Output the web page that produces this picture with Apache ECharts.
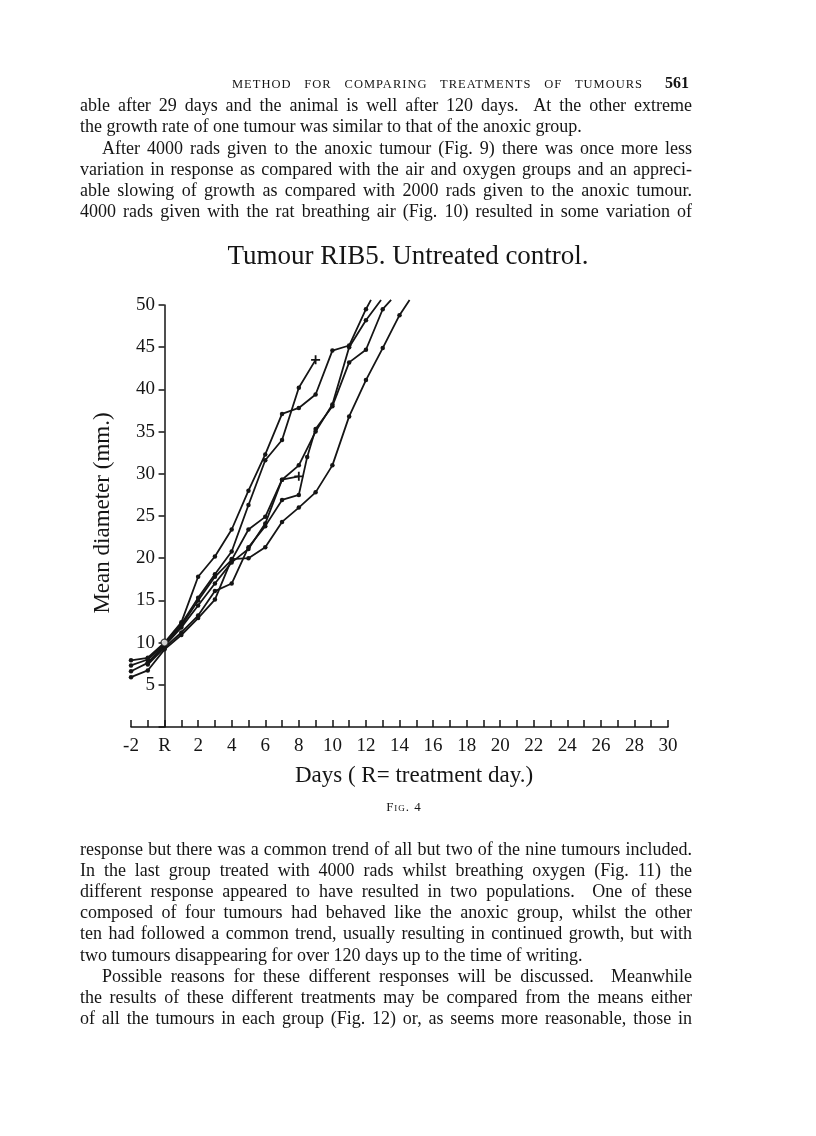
<!DOCTYPE html>
<html><head><meta charset="utf-8">
<script src="https://cdn.jsdelivr.net/npm/echarts@6/dist/echarts.min.js"></script>
<style>
html,body{margin:0;padding:0;background:#fff;}
#chart{position:absolute;left:0;top:0;width:816px;height:1136px;}
.t{position:absolute;left:80px;font-family:"Liberation Serif",serif;font-size:18px;color:#151515;line-height:20px;white-space:nowrap;}
.hdr{position:absolute;left:232px;top:76px;font-family:"Liberation Serif",serif;font-size:12.5px;letter-spacing:1px;color:#151515;line-height:16px;white-space:nowrap;}
.pg{position:absolute;left:665px;top:74px;font-family:"Liberation Serif",serif;font-size:16px;font-weight:bold;color:#151515;line-height:18px;}
.fig{position:absolute;left:0;width:808px;top:799px;text-align:center;font-family:"Liberation Serif",serif;font-size:13px;font-variant:small-caps;letter-spacing:1px;color:#151515;}
</style></head><body>
<div id="chart"></div>
<div class="hdr" data-w="411">METHOD FOR COMPARING TREATMENTS OF TUMOURS</div>
<div class="pg">561</div>
<div class="t" data-w="612" style="top:95px">able after 29 days and the animal is well after 120 days.&nbsp; At the other extreme</div>
<div class="t" style="top:116px">the growth rate of one tumour was similar to that of the anoxic group.</div>
<div class="t" data-w="590" style="top:138px;left:102px">After 4000 rads given to the anoxic tumour (Fig. 9) there was once more less</div>
<div class="t" data-w="612" style="top:159px">variation in response as compared with the air and oxygen groups and an appreci-</div>
<div class="t" data-w="612" style="top:180px">able slowing of growth as compared with 2000 rads given to the anoxic tumour.</div>
<div class="t" data-w="612" style="top:201px">4000 rads given with the rat breathing air (Fig. 10) resulted in some variation of</div>
<div class="fig">Fig. 4</div>
<div class="t" data-w="612" style="top:839px">response but there was a common trend of all but two of the nine tumours included.</div>
<div class="t" data-w="612" style="top:860px">In the last group treated with 4000 rads whilst breathing oxygen (Fig. 11) the</div>
<div class="t" data-w="612" style="top:881px">different response appeared to have resulted in two populations.&nbsp; One of these</div>
<div class="t" data-w="612" style="top:902px">composed of four tumours had behaved like the anoxic group, whilst the other</div>
<div class="t" data-w="612" style="top:923px">ten had followed a common trend, usually resulting in continued growth, but with</div>
<div class="t" style="top:945px">two tumours disappearing for over 120 days up to the time of writing.</div>
<div class="t" data-w="590" style="top:966px;left:102px">Possible reasons for these different responses will be discussed.&nbsp; Meanwhile</div>
<div class="t" data-w="612" style="top:987px">the results of these different treatments may be compared from the means either</div>
<div class="t" data-w="612" style="top:1008px">of all the tumours in each group (Fig. 12) or, as seems more reasonable, those in</div>
<script>
// justify single lines by adjusting word spacing (may be negative for tight lines)
document.querySelectorAll('[data-w]').forEach(el => {
  const target = parseFloat(el.getAttribute('data-w'));
  const w = el.getBoundingClientRect().width;
  const gaps = (el.textContent.match(/[ \u00a0]/g) || []).length;
  if (gaps > 0) el.style.wordSpacing = ((target - w) / gaps) + 'px';
});

// ---- data: [day, mean diameter (mm)] ----
const tumourA = [[-2,7.9],[-1,8.2],[0,10.0],[1,12.4],[2,17.8],[3,20.2],[4,23.4],[5,28.0],[6,32.3],[7,37.1],[8,37.8],[9,39.4],[10,44.6],[11,45.2],[12,49.5],[12.3,50.6]];
const tumourB = [[-2,7.3],[-1,8.0],[0,9.9],[1,12.2],[2,15.3],[3,18.1],[4,20.8],[5,26.3],[6,31.6],[7,34.0],[8,40.2],[9,43.5]];
const tumourC = [[-1,7.6],[0,9.8],[1,12.0],[2,15.0],[3,17.8],[4,19.8],[5,23.4],[6,24.9],[7,29.3],[8,29.7]];
const tumourD = [[-2,6.6],[-1,7.6],[0,9.6],[1,11.8],[2,14.4],[3,17.0],[4,19.5],[5,21.1],[6,24.1],[7,29.3],[8,31.0],[9,35.0],[10,38.2],[11,45.0],[12,48.2],[12.9,50.6]];
const tumourE = [[-1,7.4],[0,9.4],[1,11.2],[2,13.2],[3,16.1],[4,17.0],[5,21.3],[6,23.8],[7,26.9],[8,27.5],[8.5,32.0],[9,35.3],[10,38.0],[11,43.2],[12,44.7],[13,49.5],[13.5,50.6]];
const tumourF = [[-2,5.9],[-1,6.7],[0,9.2],[1,10.9],[2,12.9],[3,15.1],[4,19.9],[5,20.0],[6,21.3],[7,24.3],[8,26.0],[9,27.8],[10,31.0],[11,36.8],[12,41.1],[13,44.9],[14,48.8],[14.6,50.6]];
const treatmentPoint = [[0,10]];
const xTickLabelZero = 'R';
const yTickValues = [5,10,15,20,25,30,35,40,45,50];

// which curves run off the top of the chart, which stop with a cross
const runOff = [tumourA, tumourD, tumourE, tumourF];
const stopped = [tumourB, tumourC];

const INK = '#151515';
const PLUS = 'path://M4,0H6V4H10V6H6V10H4V6H0V4H4Z';

function lineSeries(arr){
  const last = arr.length - 1;
  const data = arr.map((p, i) => {
    if (i === last && runOff.includes(arr)) return {value: p, symbol: 'none'};
    if (i === last && stopped.includes(arr)) return {value: p, symbol: PLUS, symbolSize: 9};
    return {value: p};
  });
  return {
    type: 'line', data, clip: false, smooth: false,
    symbol: 'circle', symbolSize: 4.5, showSymbol: true,
    lineStyle: {color: INK, width: 1.8},
    itemStyle: {color: INK},
    emphasis: {disabled: true}, z: 3
  };
}

const chart = echarts.init(document.getElementById('chart'), null, {renderer: 'canvas'});
const axisFont = {color: INK, fontFamily: '"Liberation Serif", serif', fontSize: 19};
chart.setOption({
  animation: false,
  backgroundColor: 'transparent',
  grid: {left: 131, right: 148, top: 305, bottom: 409},
  xAxis: {
    type: 'value', min: -2, max: 30, interval: 1,
    axisLine: {show: true, onZero: true, lineStyle: {color: INK, width: 1.5}},
    axisTick: {show: true, inside: true, length: 7, lineStyle: {color: INK, width: 1.5}},
    axisLabel: Object.assign({
      margin: 10, hideOverlap: false, showMinLabel: true, showMaxLabel: true,
      formatter: v => (Math.abs(v) % 2 !== 0) ? '' : (v === 0 ? xTickLabelZero : String(v))
    }, axisFont),
    splitLine: {show: false}
  },
  yAxis: {
    type: 'value', min: 0, max: 50, interval: 5,
    axisLine: {show: true, onZero: true, lineStyle: {color: INK, width: 1.5}},
    axisTick: {show: true, inside: false, length: 6, lineStyle: {color: INK, width: 1.5}},
    axisLabel: Object.assign({
      margin: -24,
      formatter: v => yTickValues.includes(v) ? String(v) : ''
    }, axisFont),
    splitLine: {show: false}
  },
  graphic: [
    {type: 'text', left: 'center', top: 243, style: {text: 'Tumour RIB5. Untreated control.', fill: INK, font: '27px "Liberation Serif", serif'}},
    {type: 'text', x: 414, y: 776, style: {text: 'Days ( R= treatment day.)', fill: INK, font: '23px "Liberation Serif", serif', align: 'center', verticalAlign: 'middle'}},
    {type: 'text', x: 103, y: 513, rotation: Math.PI / 2, style: {text: 'Mean diameter (mm.)', fill: INK, font: '23px "Liberation Serif", serif', align: 'center', verticalAlign: 'middle'}}
  ],
  series: [
    lineSeries(tumourA), lineSeries(tumourB), lineSeries(tumourC),
    lineSeries(tumourD), lineSeries(tumourE), lineSeries(tumourF),
    {type: 'scatter', data: treatmentPoint, symbol: 'circle', symbolSize: 7,
     itemStyle: {color: '#fff', borderColor: INK, borderWidth: 1.3}, z: 5, emphasis: {disabled: true}}
  ]
});
</script>
</body></html>
